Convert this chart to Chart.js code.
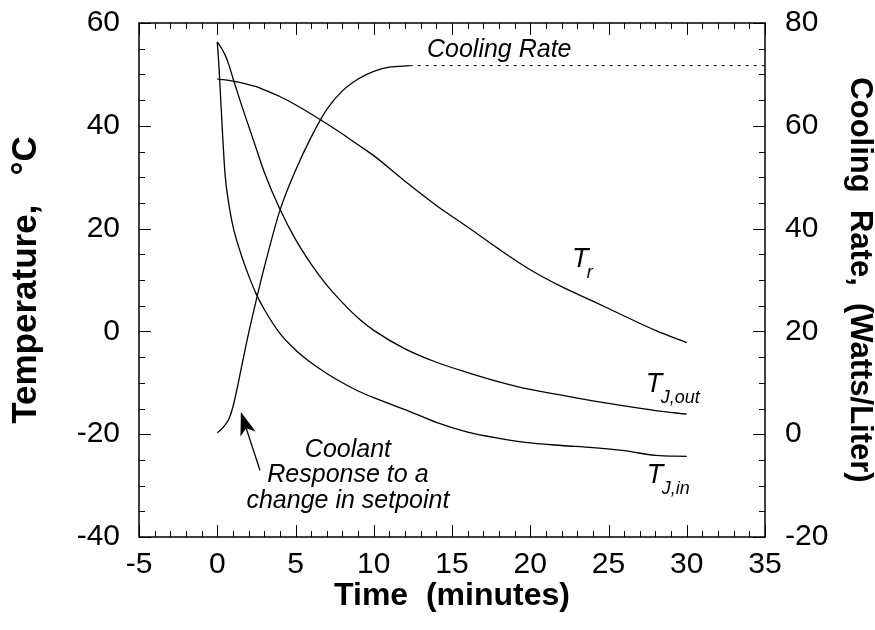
<!DOCTYPE html>
<html>
<head>
<meta charset="utf-8">
<script src="https://cdn.jsdelivr.net/npm/chart.js@4/dist/chart.umd.min.js"></script>
<style>
  html, body { margin: 0; padding: 0; background: #fff; }
</style>
</head>
<body>
<canvas id="chart" width="875" height="630"></canvas>
<script>
//Data suhu (°C) terhadap waktu (menit)//
const times = [0, 0.1, 0.25, 0.5, 0.75, 1, 1.5, 2, 2.5, 3, 4, 5, 6, 7, 8, 9, 10, 12, 14, 16, 18, 20, 22, 24, 26, 28, 30];
const tempReactor = [49.1, 49.1, 49.0, 48.95, 48.85, 48.7, 48.4, 48.0, 47.6, 47.0, 45.7, 44.1, 42.3, 40.4, 38.4, 36.3, 34.2, 29.2, 24.5, 20.3, 16.0, 12.0, 8.7, 5.9, 3.0, 0.2, -2.2];
const tempJacketOut = [56.3, 55.9, 55.2, 53.8, 51.8, 49.3, 44.5, 40.0, 35.5, 31.0, 23.8, 17.9, 13.1, 9.0, 5.6, 2.6, 0.2, -3.4, -6.0, -8.0, -9.8, -11.3, -12.4, -13.5, -14.5, -15.4, -16.1];
const tempJacketIn = [56.3, 52.0, 43.5, 30.5, 24.6, 20.5, 15.2, 10.9, 7.2, 4.3, -0.4, -3.6, -6.1, -8.2, -10.0, -11.6, -12.9, -15.2, -17.7, -19.6, -20.8, -21.7, -22.2, -22.6, -23.2, -24.1, -24.3];

//Data laju pendinginan (Watts/Liter)//
const coolTimes = [0, 0.25, 0.5, 0.75, 1, 1.25, 1.5, 2, 2.5, 3, 4, 5, 6, 7, 8, 9, 10, 11, 12.3];
const coolingRate = [0.3, 0.9, 1.8, 3.0, 5.3, 8.6, 12.3, 19.6, 26.2, 32.4, 43.5, 51.3, 57.8, 63.2, 66.8, 69.1, 70.6, 71.4, 71.7];
const plateauTimes = [12.3, 35];
const plateauRate = [71.7, 71.7];

// label positions in data units (time, °C)
const curveLabels = [
  { main: "T", sub: "r", x: 22.66, y: 12.5 },
  { main: "T", sub: "J,out", x: 27.38, y: -11.8 },
  { main: "T", sub: "J,in", x: 27.44, y: -29.5 },
];
const noteLines = ["Coolant", "Response to a", "change in setpoint"];
const noteX = 8.35;
const noteY = [-24.4, -29.3, -34.4];
const arrowTail = { x: 2.73, y: -27 };
const arrowTip = { x: 1.51, y: -15.7 };

const FAMILY = '"Liberation Sans", Arial, Helvetica, sans-serif';
Chart.defaults.font.family = FAMILY;
Chart.defaults.color = "#000";

function pairs(xs, ys) {
  return xs.map((v, i) => ({ x: v, y: ys[i] }));
}

const lineStyle = {
  borderColor: "#000",
  borderWidth: 1.3,
  pointRadius: 0,
  fill: false,
  cubicInterpolationMode: "monotone",
};

const decorations = {
  id: "decorations",
  afterDraw(chart) {
    const ctx = chart.ctx;
    const { left, right, top, bottom } = chart.chartArea;
    const sx = chart.scales.x, sy = chart.scales.y, sy2 = chart.scales.y2;
    ctx.save();
    ctx.strokeStyle = "#000";
    ctx.fillStyle = "#000";

    // frame
    ctx.lineWidth = 1.5;
    ctx.strokeRect(left, top, right - left, bottom - top);

    // inward ticks
    ctx.lineWidth = 1;
    ctx.beginPath();
    for (let v = -5; v <= 35; v++) {
      const px = Math.round(sx.getPixelForValue(v)) + 0.5;
      const len = v % 5 === 0 ? 12 : 6;
      ctx.moveTo(px, bottom); ctx.lineTo(px, bottom - len);
      ctx.moveTo(px, top); ctx.lineTo(px, top + len);
    }
    for (let v = -40; v <= 60; v += 5) {
      const py = Math.round(sy.getPixelForValue(v)) + 0.5;
      const len = v % 20 === 0 ? 12 : 6;
      ctx.moveTo(left, py); ctx.lineTo(left + len, py);
    }
    for (let v = -20; v <= 80; v += 5) {
      const py = Math.round(sy2.getPixelForValue(v)) + 0.5;
      const len = v % 20 === 0 ? 12 : 6;
      ctx.moveTo(right, py); ctx.lineTo(right - len, py);
    }
    ctx.stroke();

    // Cooling Rate label
    ctx.textAlign = "left";
    ctx.textBaseline = "alphabetic";
    ctx.font = "italic 25px " + FAMILY;
    ctx.fillText("Cooling Rate", sx.getPixelForValue(13.4), sy.getPixelForValue(53.4));

    // curve labels with subscripts
    curveLabels.forEach((l) => {
      const px = sx.getPixelForValue(l.x);
      const py = sy.getPixelForValue(l.y);
      ctx.font = "italic 27px " + FAMILY;
      const w = ctx.measureText(l.main).width;
      ctx.fillText(l.main, px, py);
      ctx.font = "italic 18px " + FAMILY;
      ctx.fillText(l.sub, px + w - 1.5, py + 11);
    });

    // coolant note
    ctx.textAlign = "center";
    ctx.font = "italic 25px " + FAMILY;
    noteLines.forEach((t, i) => {
      ctx.fillText(t, sx.getPixelForValue(noteX), sy.getPixelForValue(noteY[i]));
    });

    // arrow
    const tx = sx.getPixelForValue(arrowTail.x), ty = sy.getPixelForValue(arrowTail.y);
    const hx = sx.getPixelForValue(arrowTip.x), hy = sy.getPixelForValue(arrowTip.y);
    const ang = Math.atan2(hy - ty, hx - tx);
    const headLen = 23, halfW = 8, notch = 17;
    const bx = hx - notch * Math.cos(ang), by = hy - notch * Math.sin(ang);
    ctx.lineWidth = 1.3;
    ctx.beginPath();
    ctx.moveTo(tx, ty);
    ctx.lineTo(bx, by);
    ctx.stroke();
    const cx = hx - headLen * Math.cos(ang), cy = hy - headLen * Math.sin(ang);
    ctx.beginPath();
    ctx.moveTo(hx, hy);
    ctx.lineTo(cx + halfW * Math.sin(ang), cy - halfW * Math.cos(ang));
    ctx.lineTo(bx, by);
    ctx.lineTo(cx - halfW * Math.sin(ang), cy + halfW * Math.cos(ang));
    ctx.closePath();
    ctx.fill();

    ctx.restore();
  },
};

// keep the plot frame where the original has it
function fixVertical(width) {
  return (scale) => {
    scale.width = width;
    scale.paddingTop = 0;
    scale.paddingBottom = 0;
  };
}

const config = {
  type: "line",
  data: {
    datasets: [
      { ...lineStyle, label: "Tr", data: pairs(times, tempReactor), yAxisID: "y" },
      { ...lineStyle, label: "TJ,out", data: pairs(times, tempJacketOut), yAxisID: "y" },
      { ...lineStyle, label: "TJ,in", data: pairs(times, tempJacketIn), yAxisID: "y" },
      { ...lineStyle, label: "Cooling Rate", data: pairs(coolTimes, coolingRate), yAxisID: "y2" },
      {
        ...lineStyle,
        label: "Cooling Rate (steady)",
        data: pairs(plateauTimes, plateauRate),
        yAxisID: "y2",
        borderWidth: 1,
        borderDash: [3, 5],
      },
    ],
  },
  options: {
    responsive: false,
    animation: false,
    layout: { padding: { top: 23, right: 0, left: 0, bottom: 0 } },
    plugins: {
      legend: { display: false },
      tooltip: { enabled: false },
    },
    scales: {
      x: {
        type: "linear",
        min: -5,
        max: 35,
        grid: { display: true, drawOnChartArea: false, drawTicks: false, color: "rgba(0,0,0,0)" },
        border: { display: false },
        ticks: { stepSize: 5, padding: 10, font: { size: 30 } },
        title: {
          display: true,
          text: "Time  (minutes)",
          font: { size: 32, weight: "bold", lineHeight: 1 },
          padding: { top: 0, bottom: 18 },
        },
        afterFit: (scale) => {
          scale.height = 93;
          scale.paddingLeft = 0;
          scale.paddingRight = 0;
        },
      },
      y: {
        position: "left",
        min: -40,
        max: 60,
        grid: { display: true, drawOnChartArea: false, drawTicks: false, color: "rgba(0,0,0,0)" },
        border: { display: false },
        ticks: { stepSize: 20, padding: 19, font: { size: 30 } },
        title: {
          display: true,
          text: "Temperature,   °C",
          font: { size: 35, weight: "bold", lineHeight: 1 },
          padding: { top: 9, bottom: 0 },
        },
        afterFit: fixVertical(139),
      },
      y2: {
        position: "right",
        min: -20,
        max: 80,
        grid: { display: true, drawOnChartArea: false, drawTicks: false, color: "rgba(0,0,0,0)" },
        border: { display: false },
        ticks: { stepSize: 20, padding: 20, font: { size: 30 } },
        title: {
          display: true,
          text: "Cooling  Rate,  (Watts/Liter)",
          font: { size: 31, weight: "bold", lineHeight: 1 },
          padding: { top: 0, bottom: 0 },
        },
        afterFit: fixVertical(110),
      },
    },
  },
  plugins: [decorations],
};

const myChart = new Chart(document.getElementById("chart").getContext("2d"), config);
</script>
</body>
</html>
